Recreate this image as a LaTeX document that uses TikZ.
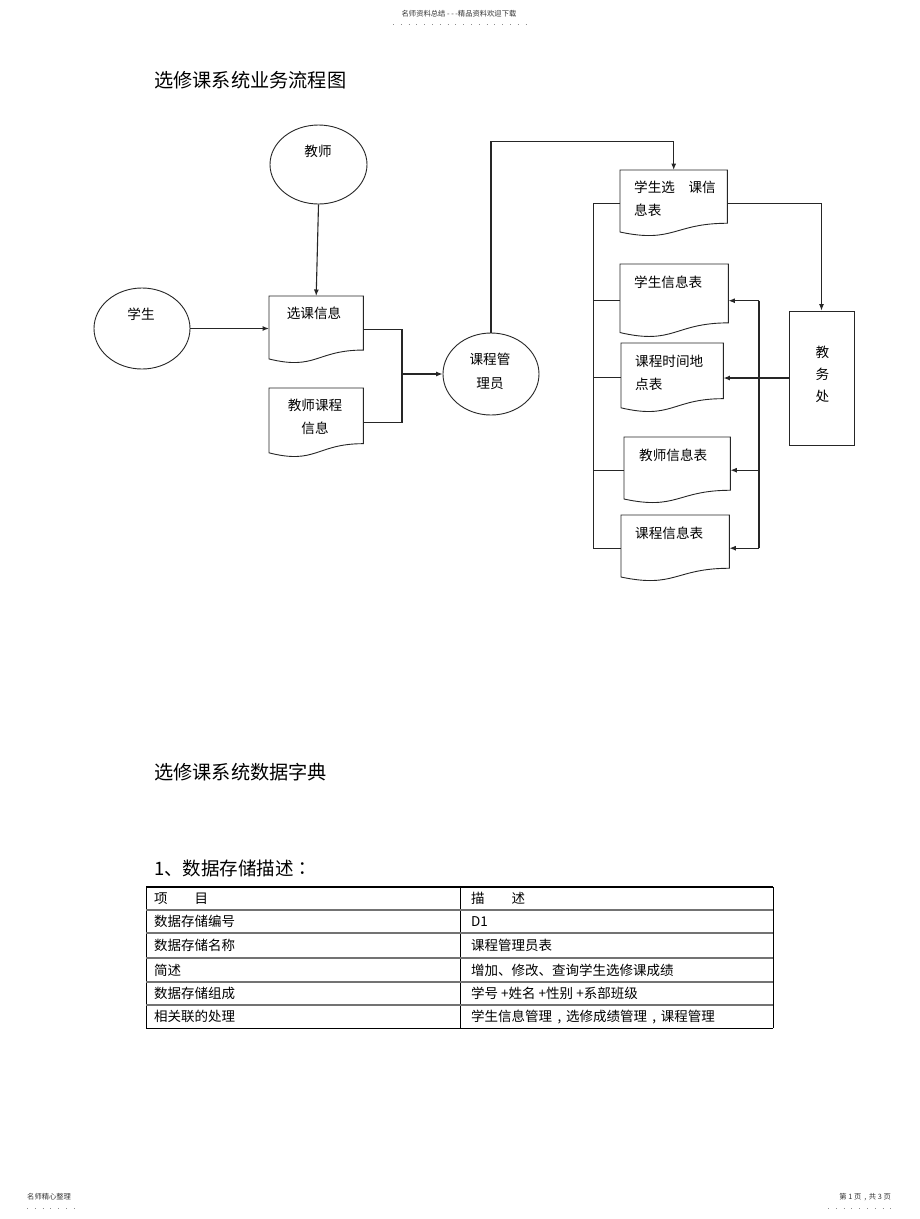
\documentclass[tikz,border=0pt]{standalone}
\usepackage{fontspec}
\setmainfont{Noto Sans CJK SC}
\newfontfamily\tcpunct{Noto Sans CJK TC}
\usetikzlibrary{arrows.meta,calc,shapes.geometric}
\tikzset{
  shapeline/.style={draw=black!85, line width=0.9pt},
  ell/.style={ellipse, shapeline, inner sep=0pt},
  docbox/.style={rectangle, inner sep=0pt, anchor=north west},
  lbl/.style={inner sep=0pt, font=\fontsize{13.6}{23}\selectfont},
  lbll/.style={lbl, anchor=west, align=left},
  conn/.style={draw=black!85, line width=1.1pt},
  busline/.style={draw=black!85, line width=1.5pt},
  arr/.style={conn, -{Latex[length=6.5pt,width=5pt]}},
  tbltext/.style={inner sep=0pt, anchor=west, text height=11.9pt, text depth=1.6pt, font=\fontsize{13.5}{16}\selectfont},
  dotrow/.style={draw=black!45, line width=1pt, dash pattern=on 1pt off 6.8pt},
  tiny/.style={inner sep=0pt, text height=6.4pt, text depth=0.9pt, font=\fontsize{7.3}{8}\selectfont, text=black!80},
}
\newcommand\pcomma{\hspace{0.4em},\hspace{0.35em}}
\newcommand\docoutline[1]{%
  \draw[shapeline] (#1.north west) -- (#1.north east)
    -- ($(#1.north east)!0.802!(#1.south east)$)
    .. controls ($(#1.north)!0.802!(#1.south)$) and ($(#1.north)!1.107!(#1.south)$)
    .. ($(#1.north west)!0.934!(#1.south west)$) -- cycle;}
\begin{document}
\begin{tikzpicture}[x=1pt,y=-1pt]
\fill[white] (0,0) rectangle (920,1219);
\useasboundingbox (0,0) rectangle (920,1219);

% header / footer
\node[tiny] (hdr) at (459,14) {名师资料总结 - - -精品资料欢迎下载};
\coordinate (hdrA) at (393,24);
\coordinate (hdrB) at (528,24);
\draw[dotrow] (hdrA) -- (hdrB);
\node[tiny, anchor=west] (ftl) at (27,1197) {名师精心整理};
\coordinate (ftlA) at (27,1208);
\coordinate (ftlB) at (77,1208);
\draw[dotrow] (ftlA) -- (ftlB);
\node[tiny, anchor=east] (ftr) at (891,1197) {第 1 页\pcomma 共 3 页};
\coordinate (ftrA) at (828,1208);
\coordinate (ftrB) at (895,1208);
\draw[dotrow] (ftrA) -- (ftrB);

% titles
\node[inner sep=0pt, anchor=west, font=\fontsize{19.2}{20}\selectfont] (title1) at (154,80) {选修课系统业务流程图};
\node[inner sep=0pt, anchor=west, font=\fontsize{19.2}{20}\selectfont] (title2) at (154,772) {选修课系统数据字典};
\node[inner sep=0pt, anchor=west, font=\fontsize{18.5}{20}\selectfont] (title3) at (154,868) {1、数据存储描述{\tcpunct ：}};

% ellipses
\node[ell, minimum width=97pt, minimum height=79pt] (T) at (318.5,164.5) {};
\node[ell, minimum width=96pt, minimum height=81pt] (S) at (142,328.5) {};
\node[ell, minimum width=96pt, minimum height=82pt] (M) at (491,374) {};
\node[lbl] (Tt) at (318,151) {教师};
\node[lbl] (St) at (141,314) {学生};
\node[lbl, align=center, font=\fontsize{13.6}{24}\selectfont] (Mt) at (490,371) {课程管\\理员};

% documents
\node[docbox, minimum width=94pt, minimum height=67pt] (A) at (269,296) {};
\node[docbox, minimum width=94pt, minimum height=69pt] (B) at (269,388) {};
\node[docbox, minimum width=107pt, minimum height=66pt] (C) at (620,170) {};
\node[docbox, minimum width=108pt, minimum height=73pt] (D) at (620,264) {};
\node[docbox, minimum width=102pt, minimum height=69pt] (E) at (621,343) {};
\node[docbox, minimum width=106pt, minimum height=66pt] (F) at (624,437) {};
\node[docbox, minimum width=108pt, minimum height=66pt] (G) at (621,515) {};
\docoutline{A}\docoutline{B}\docoutline{C}\docoutline{D}\docoutline{E}\docoutline{F}\docoutline{G}
\node[lbl] (At) at (314,313) {选课信息};
\node[lbl, align=center] (Bt) at (315,416.5) {教师课程\\信息};
\node[lbll] (Ct) at (634,198.5) {学生选\hspace{1em}课信\\息表};
\node[lbll] (Dt) at (634,282) {学生信息表};
\node[lbll] (Et) at (635,373) {课程时间地\\点表};
\node[lbll] (Ft) at (639,455) {教师信息表};
\node[lbll] (Gt) at (635,533) {课程信息表};

% 教务处
\node[rectangle, shapeline, minimum width=65pt, minimum height=134pt] (R) at (821.5,378) {};
\node[lbl, align=center, font=\fontsize{13.6}{22}\selectfont] (Rt) at (822.5,374) {教\\务\\处};

% connectors left part
\draw[arr] (T.south) -- (A.north);
\draw[arr] (S.east) -- (S.east -| A.west);
\coordinate (J) at (402,374);
\draw[conn] (A.east) -| (J) |- (B.east);
\draw[arr] (J) -- (M.west);
\draw[arr] (M.north) -- ++(0,-191) -| (C.north);

% right part
\draw[arr] (C.east) -| (R.north);
\coordinate (rbus) at (759,378);
\draw[busline] (R.west) -- (rbus);
\draw[arr, line width=1.3pt] (rbus) -- (rbus -| E.east);
\draw[busline] (D.east -| rbus) -- (G.east -| rbus);
\draw[arr] (D.east -| rbus) -- (D.east);
\draw[arr] (F.east -| rbus) -- (F.east);
\draw[arr] (G.east -| rbus) -- (G.east);

\coordinate (lbus) at (593,203);
\draw[conn, line width=0.9pt] (C.west) -- (C.west -| lbus) -- (G.west -| lbus) -- (G.west);
\draw[conn, line width=0.9pt] (D.west -| lbus) -- (D.west);
\draw[conn, line width=0.9pt] (E.west -| lbus) -- (E.west);
\draw[conn, line width=0.9pt] (F.west -| lbus) -- (F.west);

% table
\draw[black, line width=0.9pt] (146,887) -- (146,1028) (460,887) -- (460,1028) (773,887) -- (773,1028);
\draw[black, line width=2pt] (146,887) -- (773,887);
\foreach \yy in {910,933,958,982,1005} \draw[black!55, line width=1.1pt] (146,\yy) -- (773,\yy);
\draw[black, line width=1pt] (146,1028) -- (773,1028);
\node[tbltext] (r1a) at (154,898.5) {项\hspace{2em}目};
\node[tbltext] (r1b) at (471,898.5) {描\hspace{2em}述};
\node[tbltext] (r2a) at (154,921.5) {数据存储编号};
\node[tbltext] (r2b) at (471,921.5) {D1};
\node[tbltext] (r3a) at (154,945.5) {数据存储名称};
\node[tbltext] (r3b) at (471,945.5) {课程管理员表};
\node[tbltext] (r4a) at (154,970) {简述};
\node[tbltext] (r4b) at (471,970) {增加、修改、查询学生选修课成绩};
\node[tbltext] (r5a) at (154,993.5) {数据存储组成};
\node[tbltext] (r5b) at (471,993.5) {学号 +姓名 +性别 +系部班级};
\node[tbltext] (r6a) at (154,1016.5) {相关联的处理};
\node[tbltext] (r6b) at (471,1016.5) {学生信息管理\pcomma 选修成绩管理\pcomma 课程管理};
\end{tikzpicture}
\end{document}
